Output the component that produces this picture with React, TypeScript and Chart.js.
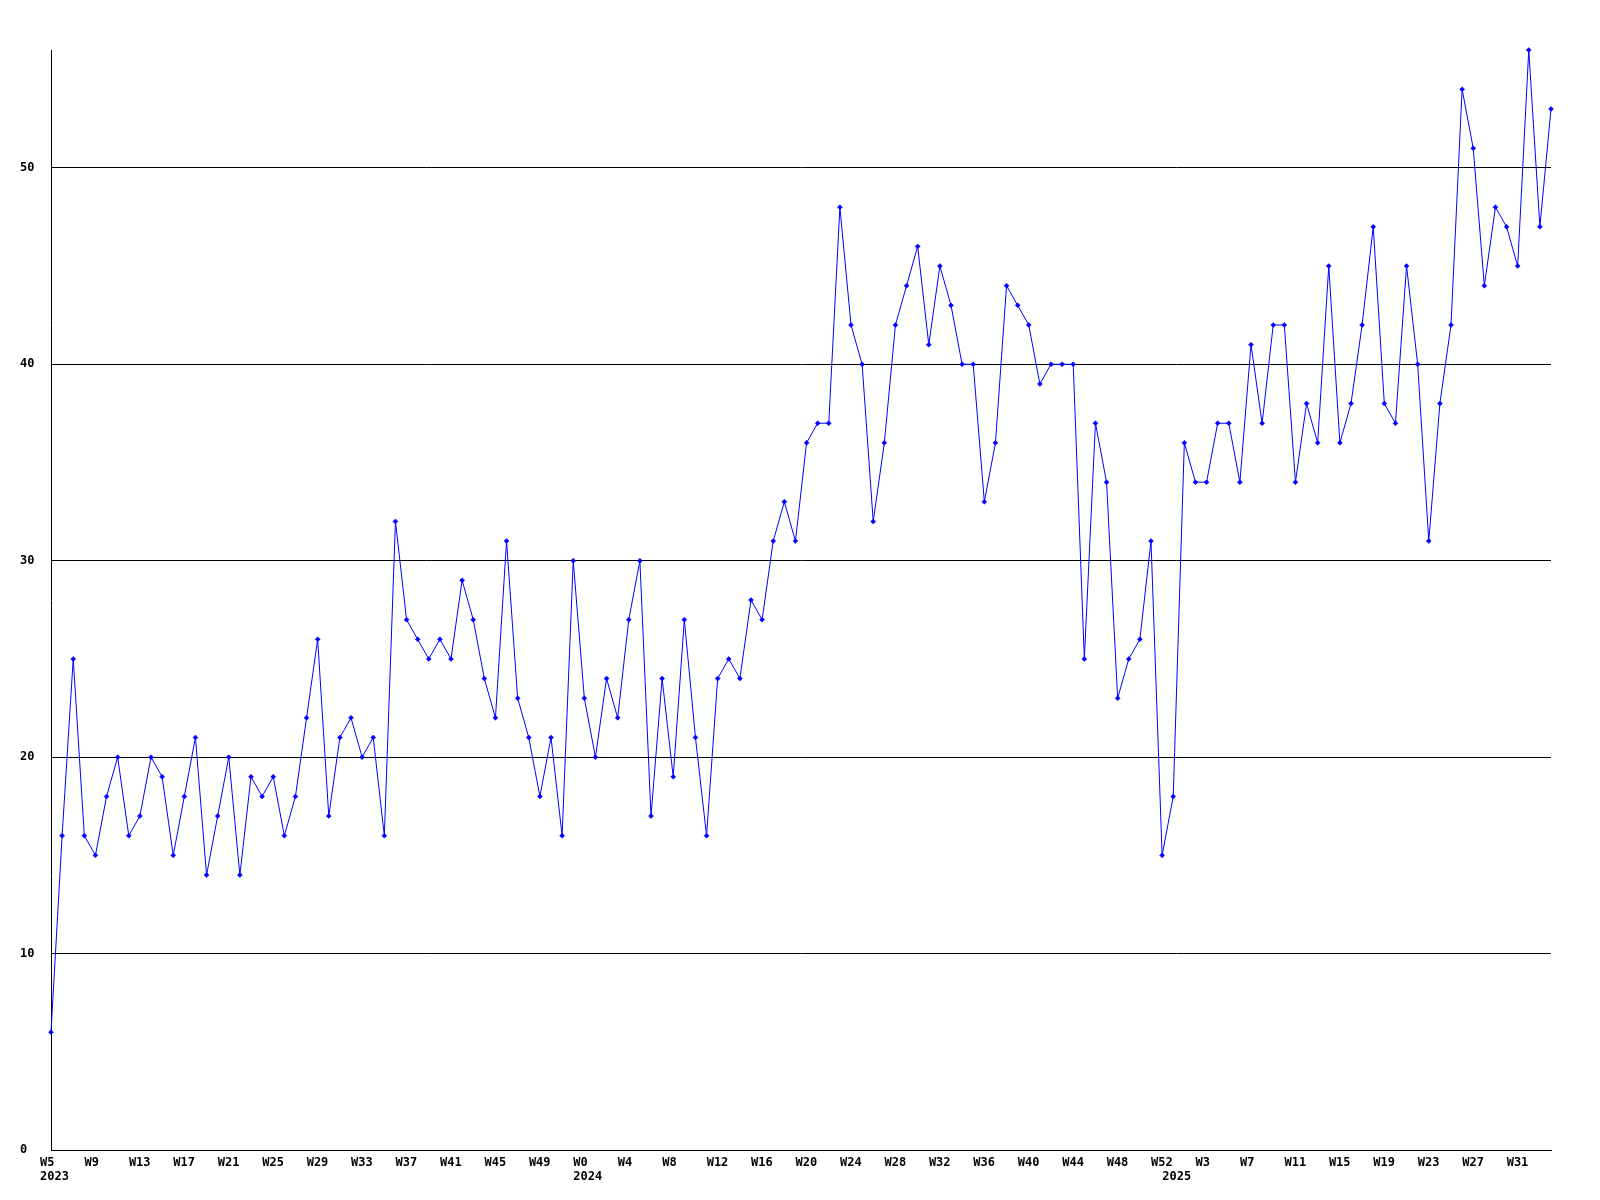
import { useEffect, useRef } from 'react';
import { Chart, registerables } from 'chart.js';

Chart.register(...registerables);

// Week numbers per year (x categories)
const weeks2023 = [5, 6, 7, 8, 9, 10, 11, 12, 13, 14, 15, 16, 17, 18, 19, 20, 21, 22, 23, 24, 25, 26, 27, 28, 29, 30, 31, 32, 33, 34, 35, 36, 37, 38, 39, 40, 41, 42, 43, 44, 45, 46, 47, 48, 49, 50, 51, 52];
const weeks2024 = [0, 1, 2, 3, 4, 5, 6, 7, 8, 9, 10, 11, 12, 13, 14, 15, 16, 17, 18, 19, 20, 21, 22, 23, 24, 25, 26, 27, 28, 29, 30, 31, 32, 33, 34, 35, 36, 37, 38, 39, 40, 41, 42, 43, 44, 45, 46, 47, 48, 49, 50, 51, 52];
const weeks2025 = [0, 1, 2, 3, 4, 5, 6, 7, 8, 9, 10, 11, 12, 13, 14, 15, 16, 17, 18, 19, 20, 21, 22, 23, 24, 25, 26, 27, 28, 29, 30, 31, 32, 33, 34];
const years = ['2023', '2024', '2025'];

// Weekly values
const values2023 = [6, 16, 25, 16, 15, 18, 20, 16, 17, 20, 19, 15, 18, 21, 14, 17, 20, 14, 19, 18, 19, 16, 18, 22, 26, 17, 21, 22, 20, 21, 16, 32, 27, 26, 25, 26, 25, 29, 27, 24, 22, 31, 23, 21, 18, 21, 16, 30];
const values2024 = [23, 20, 24, 22, 27, 30, 17, 24, 19, 27, 21, 16, 24, 25, 24, 28, 27, 31, 33, 31, 36, 37, 37, 48, 42, 40, 32, 36, 42, 44, 46, 41, 45, 43, 40, 40, 33, 36, 44, 43, 42, 39, 40, 40, 40, 25, 37, 34, 23, 25, 26, 31, 15];
const values2025 = [18, 36, 34, 34, 37, 37, 34, 41, 37, 42, 42, 34, 38, 36, 45, 36, 38, 42, 47, 38, 37, 45, 40, 31, 38, 42, 54, 51, 44, 48, 47, 45, 56, 47, 53];

const yMin = 0;
const yMax = 56;
const yStep = 10;
const labelEvery = 4;

const weekGroups = [weeks2023, weeks2024, weeks2025];
const categories: string[] = [];
const yearAt: Record<number, string> = {};
weekGroups.forEach((ws, gi) => {
  yearAt[categories.length] = years[gi];
  ws.forEach((w) => categories.push('W' + w));
});
const values = [...values2023, ...values2024, ...values2025];

const FONT_Y = {
  family: '"DejaVu Sans Mono", "Liberation Mono", monospace',
  size: 12,
  weight: 'bold' as const,
};
const FONT_X = {
  family: '"DejaVu Sans Mono", "Liberation Mono", monospace',
  size: 12,
  weight: 'bold' as const,
  lineHeight: 14 / 12,
};

export default function App() {
  const ref = useRef<HTMLCanvasElement | null>(null);

  useEffect(() => {
    if (!ref.current) return;
    const chart = new Chart(ref.current, {
      type: 'line',
      data: {
        labels: categories,
        datasets: [
          {
            data: values,
            borderColor: '#0000ff',
            backgroundColor: '#0000ff',
            borderWidth: 1,
            tension: 0,
            pointStyle: 'rectRot',
            pointRadius: 2.5,
            pointBorderWidth: 0.5,
            pointHoverRadius: 2.5,
            clip: false as any,
          },
        ],
      },
      options: {
        responsive: false,
        animation: false,
        events: [],
        layout: { padding: { top: 42, left: 12, right: 41, bottom: 0 } },
        plugins: { legend: { display: false }, tooltip: { enabled: false } },
        scales: {
          x: {
            type: 'category',
            offset: false,
            grid: { display: false, drawTicks: false },
            border: { display: true, color: '#000000', width: 1 },
            afterFit: (s: any) => {
              s.height = 42;
            },
            ticks: {
              autoSkip: false,
              maxRotation: 0,
              minRotation: 0,
              align: 'start',
              labelOffset: -11,
              padding: 5.5,
              color: '#000000',
              font: FONT_X,
              callback: function (_v: any, index: number) {
                const wk = index % labelEvery === 0 ? categories[index] : '';
                const yr = yearAt[index];
                if (yr) return [wk, yr];
                return wk;
              },
            },
          },
          y: {
            type: 'linear',
            min: yMin,
            max: yMax,
            grid: { display: true, color: '#000000', lineWidth: 1, drawTicks: false },
            border: { display: true, color: '#000000', width: 1 },
            afterFit: (s: any) => {
              s.width = 31;
            },
            ticks: {
              stepSize: yStep,
              includeBounds: false,
              crossAlign: 'far',
              color: '#000000',
              font: FONT_Y,
            },
          },
        },
      },
    });
    return () => chart.destroy();
  }, []);

  return (
    <div style={{ width: 1584, height: 1184 }}>
      <canvas ref={ref} width={1584} height={1184} style={{ display: 'block' }} />
    </div>
  );
}
